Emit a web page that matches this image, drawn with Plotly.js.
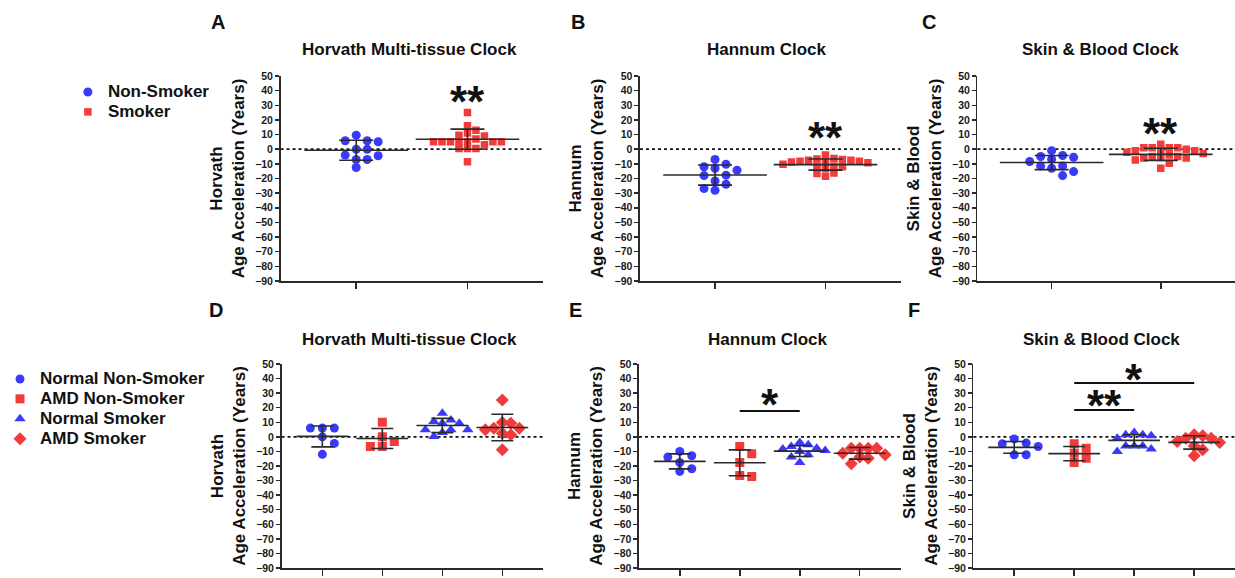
<!DOCTYPE html>
<html><head><meta charset="utf-8">
<script src="https://cdn.plot.ly/plotly-3.0.1.min.js"></script>
<style>html,body{margin:0;padding:0;background:#fff}#chart{width:1235px;height:578px}</style>
</head><body><div id="chart"></div>
<script>
// ---------------- DATA ----------------
const topGroups = ['Non-Smoker', 'Smoker'];
const bottomGroups = ['Normal Non-Smoker', 'AMD Non-Smoker', 'Normal Smoker', 'AMD Smoker'];
const clockTitles = ['Horvath Multi-tissue Clock', 'Hannum Clock', 'Skin & Blood Clock'];
const clockLabels = ['Horvath', 'Hannum', 'Skin & Blood'];
const panelLetters = ['A', 'B', 'C', 'D', 'E', 'F'];
const yTickVals = [-90, -80, -70, -60, -50, -40, -30, -20, -10, 0, 10, 20, 30, 40, 50];

// Top row (A-C): Non-Smoker vs Smoker
const horvathNonSmoker = [9.6, 5.1, 5.8, 5.8, 0, -4, 0, -4.5, -7, -12.5, -7];
const horvathSmoker = [5.1, 5.1, 9, 11, 5.1, 0.5, 25, 5.1, -8.6, 13, 5.1, 0.5, 16, 9.6, 0.5, 5.1, 5.1, 7, 3];
const hannumNonSmoker = [-14.4, -21.7, -28, -7, -13, -12, -18, -26.9, -10.3, -17.7, -23.9];
const hannumSmoker = [-8.2, -9.3, -7.5, -6.6, -11.6, -16.6, -8.7, -13.2, -6.4, -11.6, -16.2, -4, -10.3, -7, -12, -18.4, -7.5, -8.7, -8.2];
const skinBloodNonSmoker = [-6.8, -5.5, -11.4, -18, -4.3, -13, -1, -8.4, -15.3, -5, -11.4];
const skinBloodSmoker = [-7.3, -1, 3.4, -1, 1, -13, 1, -5, 1, -6, -3, 1, -4, -9.5, 0, -5.7, -1, -6, -5, -2];

const horvathTopMean = [-0.7, 6.85], horvathTopSD = [6.8, 6.85];
const hannumTopMean = [-17.65, -10.5], hannumTopSD = [6.85, 3.8];
const skinBloodTopMean = [-9.1, -3.5], skinBloodTopSD = [4.85, 4.15];

// Bottom row (D-F): Normal/AMD x Non-Smoker/Smoker
const horvathNormalNon = [6, 6, 6, 0, -4.5, -12];
const horvathAMDNon = [-6.6, 10, -3.2, 0, -6.6];
const horvathNormalSmk = [9.4, 11.6, 16.2, 10.5, 9.4, 3, 4.8, 4.8, 4.8, 0.2];
const horvathAMDSmk = [25.3, 4.8, 5.9, 9.8, 5.9, 9.4, 2.5, 1.4, -8.9];
const hannumNormalNon = [-13, -10, -13.9, -17.6, -23.7, -21.9];
const hannumAMDNon = [-6.6, -17.6, -11.6, -27.2, -26.5];
const hannumNormalSmk = [-6.6, -5.5, -3.9, -8.4, -9.4, -13.9, -10, -7.8, -12.3, -17.6];
const hannumAMDSmk = [-11.2, -7.8, -7.8, -7.8, -7.8, -12.3, -18.5, -13.9, -14.6];
const skinBloodNormalNon = [-6.6, -1.4, -4.8, -4.3, -12.3, -12.3];
const skinBloodAMDNon = [-4.8, -17.6, -11.2, -7.8, -14.6];
const skinBloodNormalSmk = [3, 0.7, 1.4, 1.4, -0.9, -8.4, -6.2, -6.2, -6.2, -10];
const skinBloodAMDSmk = [0.7, 1.4, -0.9, -3.2, -0.9, -3.9, -6.2, -8.9, -13];

const horvathBotMean = [0.3, -1.1, 7.8, 6.4], horvathBotSD = [7.2, 6.85, 4.9, 9.1];
const hannumBotMean = [-16.8, -17.8, -9.8, -11.3], hannumBotSD = [5.15, 8.9, 3.65, 4];
const skinBloodBotMean = [-7.2, -11.5, -2.4, -3.8], skinBloodBotSD = [4, 4.9, 3.8, 4.6];

// Significance marks: group index for stars (top row), brackets (bottom row)
const topStars = [{group: 1, y: 37, label: '**'}, {group: 1, y: 12.4, label: '**'}, {group: 1, y: 14.5, label: '**'}];
const hannumBrackets = [{from: 1, to: 2, y: 17.7, label: '*', labelY: 26.7}];
const skinBloodBrackets = [{from: 1, to: 3, y: 37, label: '*', labelY: 44.5},
                           {from: 1, to: 2, y: 18.4, label: '**', labelY: 26}];

// ---------------- LAYOUT GEOMETRY ----------------
const W = 1235, H = 578;
const BLUE = '#3a3afc', RED = '#f23b3b', INK = '#2a2a2a';
const FONT = 'Liberation Sans, Arial, sans-serif';
const xPxTop = [[279, 542], [639, 900], [977, 1235]];
const xPxBot = [[280, 542], [638, 900], [973, 1235]];
const yPxTop = [76, 281], yPxBot = [364, 568];
const xRangeTop = [-0.68, 1.68], xRangeBot = [-0.68, 3.68], yRange = [-90, 50];

const topStyles = [{symbol: 'circle', color: BLUE, size: 9, step: 11}, {symbol: 'square', color: RED, size: 7.5, step: 8.5}];
const botStyles = [{symbol: 'circle', color: BLUE, size: 9, step: 12}, {symbol: 'square', color: RED, size: 9, step: 12},
                   {symbol: 'triangle-up', color: BLUE, size: 10, step: 8.5}, {symbol: 'diamond', color: RED, size: 10, step: 8.5}];

const panels = [
  {groups: topGroups, values: [horvathNonSmoker, horvathSmoker], mean: horvathTopMean, sd: horvathTopSD, top: true, legend: 'legend'},
  {groups: topGroups, values: [hannumNonSmoker, hannumSmoker], mean: hannumTopMean, sd: hannumTopSD, top: true},
  {groups: topGroups, values: [skinBloodNonSmoker, skinBloodSmoker], mean: skinBloodTopMean, sd: skinBloodTopSD, top: true},
  {groups: bottomGroups, values: [horvathNormalNon, horvathAMDNon, horvathNormalSmk, horvathAMDSmk], mean: horvathBotMean, sd: horvathBotSD, top: false, legend: 'legend2'},
  {groups: bottomGroups, values: [hannumNormalNon, hannumAMDNon, hannumNormalSmk, hannumAMDSmk], mean: hannumBotMean, sd: hannumBotSD, top: false, brackets: hannumBrackets},
  {groups: bottomGroups, values: [skinBloodNormalNon, skinBloodAMDNon, skinBloodNormalSmk, skinBloodAMDSmk], mean: skinBloodBotMean, sd: skinBloodBotSD, top: false, brackets: skinBloodBrackets}
];

// Deterministic scatter-dot arrangement (GraphPad-like): spread overlapping points sideways
function swarm(values, center, pxPerCat, pxPerUnit, diam, step) {
  const idx = values.map((v, i) => i).sort((a, b) => values[b] - values[a]);
  const placed = [];
  const xs = new Array(values.length);
  for (const i of idx) {
    const py = values[i] * pxPerUnit;
    for (let k = 0; k < 60; k++) {
      const off = k === 0 ? 0 : (k % 2 ? 1 : -1) * Math.ceil(k / 2) * step;
      const ok = placed.every(p => Math.abs(p.x - off) >= step * 0.95 || Math.abs(p.y - py) >= diam);
      if (ok) { placed.push({x: off, y: py}); xs[i] = center + off / pxPerCat; break; }
    }
  }
  return xs;
}

const traces = [];
const layout = {
  width: W, height: H, margin: {l: 0, r: 0, t: 0, b: 0},
  paper_bgcolor: '#fff', plot_bgcolor: '#fff', showlegend: true,
  font: {family: FONT, color: '#111'},
  shapes: [], annotations: [],
  legend: {x: 66 / W, y: 1 - 77 / H, xanchor: 'left', yanchor: 'top', bgcolor: 'rgba(0,0,0,0)',
           font: {size: 13, family: FONT, weight: 'bold', color: '#111'}, tracegroupgap: 0},
  legend2: {x: -2 / W, y: 1 - 364 / H, xanchor: 'left', yanchor: 'top', bgcolor: 'rgba(0,0,0,0)',
            font: {size: 13, family: FONT, weight: 'bold', color: '#111'}, tracegroupgap: 0}
};

panels.forEach((p, pi) => {
  const n = pi + 1, sfx = n === 1 ? '' : String(n);
  const xa = 'x' + sfx, ya = 'y' + sfx;
  const col = pi % 3;
  const xPx = p.top ? xPxTop[col] : xPxBot[col];
  const yPx = p.top ? yPxTop : yPxBot;
  const xRange = p.top ? xRangeTop : xRangeBot;
  const pxPerCat = (xPx[1] - xPx[0]) / (xRange[1] - xRange[0]);
  const pxPerUnit = (yPx[1] - yPx[0]) / (yRange[1] - yRange[0]);
  const styles = p.top ? topStyles : botStyles;
  const cats = p.groups.map((g, i) => i);

  layout['xaxis' + sfx] = {
    domain: [xPx[0] / W, xPx[1] / W], range: xRange, anchor: ya,
    showgrid: false, zeroline: false, showline: true, linecolor: INK, linewidth: 1.5,
    tickmode: 'array', tickvals: cats, ticks: 'outside', ticklen: 6, tickwidth: 1.5, tickcolor: INK,
    showticklabels: false, fixedrange: true
  };
  layout['yaxis' + sfx] = {
    domain: [1 - yPx[1] / H, 1 - yPx[0] / H], range: yRange, anchor: xa,
    showgrid: false, zeroline: false, showline: true, linecolor: INK, linewidth: 1.5,
    tickmode: 'array', tickvals: yTickVals, ticks: 'outside', ticklen: 4, tickwidth: 1.5, tickcolor: INK,
    tickfont: {family: FONT, size: 10.5, weight: 'bold', color: '#1a1a1a'},
    title: {text: clockLabels[col] + '<br>Age Acceleration (Years)', standoff: 6,
            font: {family: FONT, size: 17, weight: 'bold', color: '#111'}},
    fixedrange: true
  };

  p.values.forEach((vals, gi) => {
    const st = styles[gi];
    const xs = swarm(vals, gi, pxPerCat, pxPerUnit, st.size * 0.85, st.step);
    traces.push({
      type: 'scatter', mode: 'markers', x: xs, y: vals, xaxis: xa, yaxis: ya,
      name: '<span style="font-size:17px">' + p.groups[gi] + '</span>',
      marker: {symbol: st.symbol, color: st.color, size: st.size, line: {width: 0}},
      showlegend: !!p.legend, legend: p.legend || 'legend', hoverinfo: 'y'
    });
  });
  // mean line + SD error bars
  traces.push({
    type: 'scatter', mode: 'markers', x: cats, y: p.mean, xaxis: xa, yaxis: ya, showlegend: false,
    marker: {symbol: 'line-ew', size: p.top ? 74 : 37, color: INK, line: {color: INK, width: 1.6}},
    error_y: {type: 'data', array: p.sd, visible: true, color: INK, thickness: 1.6, width: p.top ? 17 : 11},
    hoverinfo: 'skip'
  });

  // dotted zero reference line
  layout.shapes.push({type: 'line', xref: xa + ' domain', yref: ya, x0: 0, x1: 1, y0: 0, y1: 0,
                      line: {color: '#111', width: 1.8, dash: 'dot'}, layer: 'below'});

  // panel title and letter
  const titleX = p.top ? [408, 766, 1100][col] : [408, 767, 1101][col];
  layout.annotations.push({xref: 'paper', yref: 'paper', x: titleX / W, y: 1 - (p.top ? 50 : 339) / H,
    text: clockTitles[col], showarrow: false, xanchor: 'center', yanchor: 'middle',
    font: {family: FONT, size: 17, weight: 'bold', color: '#111'}});
  const letterX = p.top ? [216, 577, 929][col] : [214, 574, 913][col];
  layout.annotations.push({xref: 'paper', yref: 'paper', x: letterX / W, y: 1 - (p.top ? 22 : 310) / H,
    text: panelLetters[pi], showarrow: false, xanchor: 'center', yanchor: 'middle',
    font: {family: FONT, size: 20, weight: 'bold', color: '#111'}});

  if (p.top) {
    const s = topStars[col];
    layout.annotations.push({xref: xa, yref: ya, x: s.group, y: s.y, text: s.label, showarrow: false,
      xanchor: 'center', yanchor: 'middle', yshift: -6,
      font: {family: FONT, size: 44, weight: 'bold', color: '#111'}});
  }
  (p.brackets || []).forEach(b => {
    layout.shapes.push({type: 'line', xref: xa, yref: ya, x0: b.from, x1: b.to, y0: b.y, y1: b.y,
                        line: {color: '#111', width: 2}});
    layout.annotations.push({xref: xa, yref: ya, x: (b.from + b.to) / 2, y: b.labelY, text: b.label,
      showarrow: false, xanchor: 'center', yanchor: 'middle', yshift: -7,
      font: {family: FONT, size: 44, weight: 'bold', color: '#111'}});
  });
});

Plotly.newPlot('chart', traces, layout, {staticPlot: true, displayModeBar: false});
</script>
</body></html>
